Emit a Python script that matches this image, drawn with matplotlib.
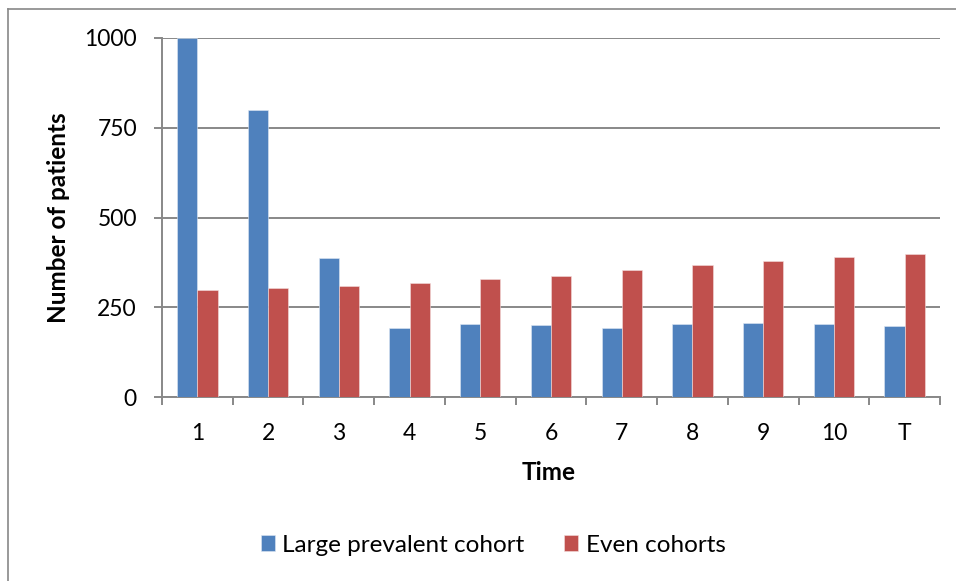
import matplotlib
matplotlib.use("Agg")
import matplotlib.pyplot as plt
from matplotlib.lines import Line2D
import numpy as np

categories = ["1", "2", "3", "4", "5", "6", "7", "8", "9", "10", "T"]
large_prevalent = [1000, 800, 387, 193, 202, 200, 191, 202, 206, 203, 197]
even_cohorts = [298, 304, 309, 317, 329, 336, 353, 369, 378, 391, 399]
y_ticks = [0, 250, 500, 750, 1000]

BLUE = "#4F81BD"
RED = "#C0504D"
GRID = "#888888"

plt.rcParams["font.family"] = ["Lato", "DejaVu Sans"]

fig = plt.figure(figsize=(9.56, 5.81), dpi=100)
ax = fig.add_axes([162 / 956, 1 - 397 / 581, (940 - 162) / 956, (397 - 38) / 581])

x = np.arange(len(categories))
w = 1 / 3.5
ax.bar(x - w / 2, large_prevalent, width=w, color=BLUE, edgecolor="#dfe8f3",
       linewidth=0.4, zorder=3, label="Large prevalent cohort")
ax.bar(x + w / 2, even_cohorts, width=w, color=RED, edgecolor="#f3dede",
       linewidth=0.4, zorder=3, label="Even cohorts")

ax.set_xlim(-0.5, len(categories) - 0.5)
ax.set_ylim(0, 1000)
ax.set_yticks(y_ticks)
ax.set_yticklabels([str(v) for v in y_ticks])
ax.yaxis.grid(True, color=GRID, linewidth=1.4, zorder=0)
ax.set_axisbelow(True)

ax.set_xticks(x)
ax.set_xticklabels(categories)
ax.set_xticks(np.arange(-0.5, len(categories)), minor=True)
ax.tick_params(axis="x", which="major", length=0, pad=19, labelsize=16.5)
ax.tick_params(axis="x", which="minor", length=6, width=1.4, color=GRID, direction="out")
ax.tick_params(axis="y", length=6, width=1.4, color=GRID, direction="out", pad=12,
               labelsize=16.5)

for side in ["top", "right"]:
    ax.spines[side].set_visible(False)
for side in ["left", "bottom"]:
    ax.spines[side].set_color(GRID)
    ax.spines[side].set_linewidth(1.4)

fig.text(58 / 956, 1 - 218 / 581, "Number of patients", rotation=90,
         ha="center", va="center", fontsize=17.5, fontweight="bold")
fig.text(549 / 956, 1 - 473 / 581, "Time", ha="center", va="center",
         fontsize=17.5, fontweight="bold")

fig.legend(loc="center", bbox_to_anchor=(493 / 956, 1 - 545 / 581), ncol=2,
           frameon=False, fontsize=17.5, handlelength=0.6, handleheight=0.6,
           handletextpad=0.3, columnspacing=1.6)

# chart frame: top and left edges
fig.add_artist(Line2D([8 / 956, 1], [1 - 9 / 581, 1 - 9 / 581], color=GRID,
                      linewidth=1.2, transform=fig.transFigure))
fig.add_artist(Line2D([8 / 956, 8 / 956], [0, 1 - 9 / 581], color=GRID,
                      linewidth=1.2, transform=fig.transFigure))

fig.savefig("out.png", dpi=100)
